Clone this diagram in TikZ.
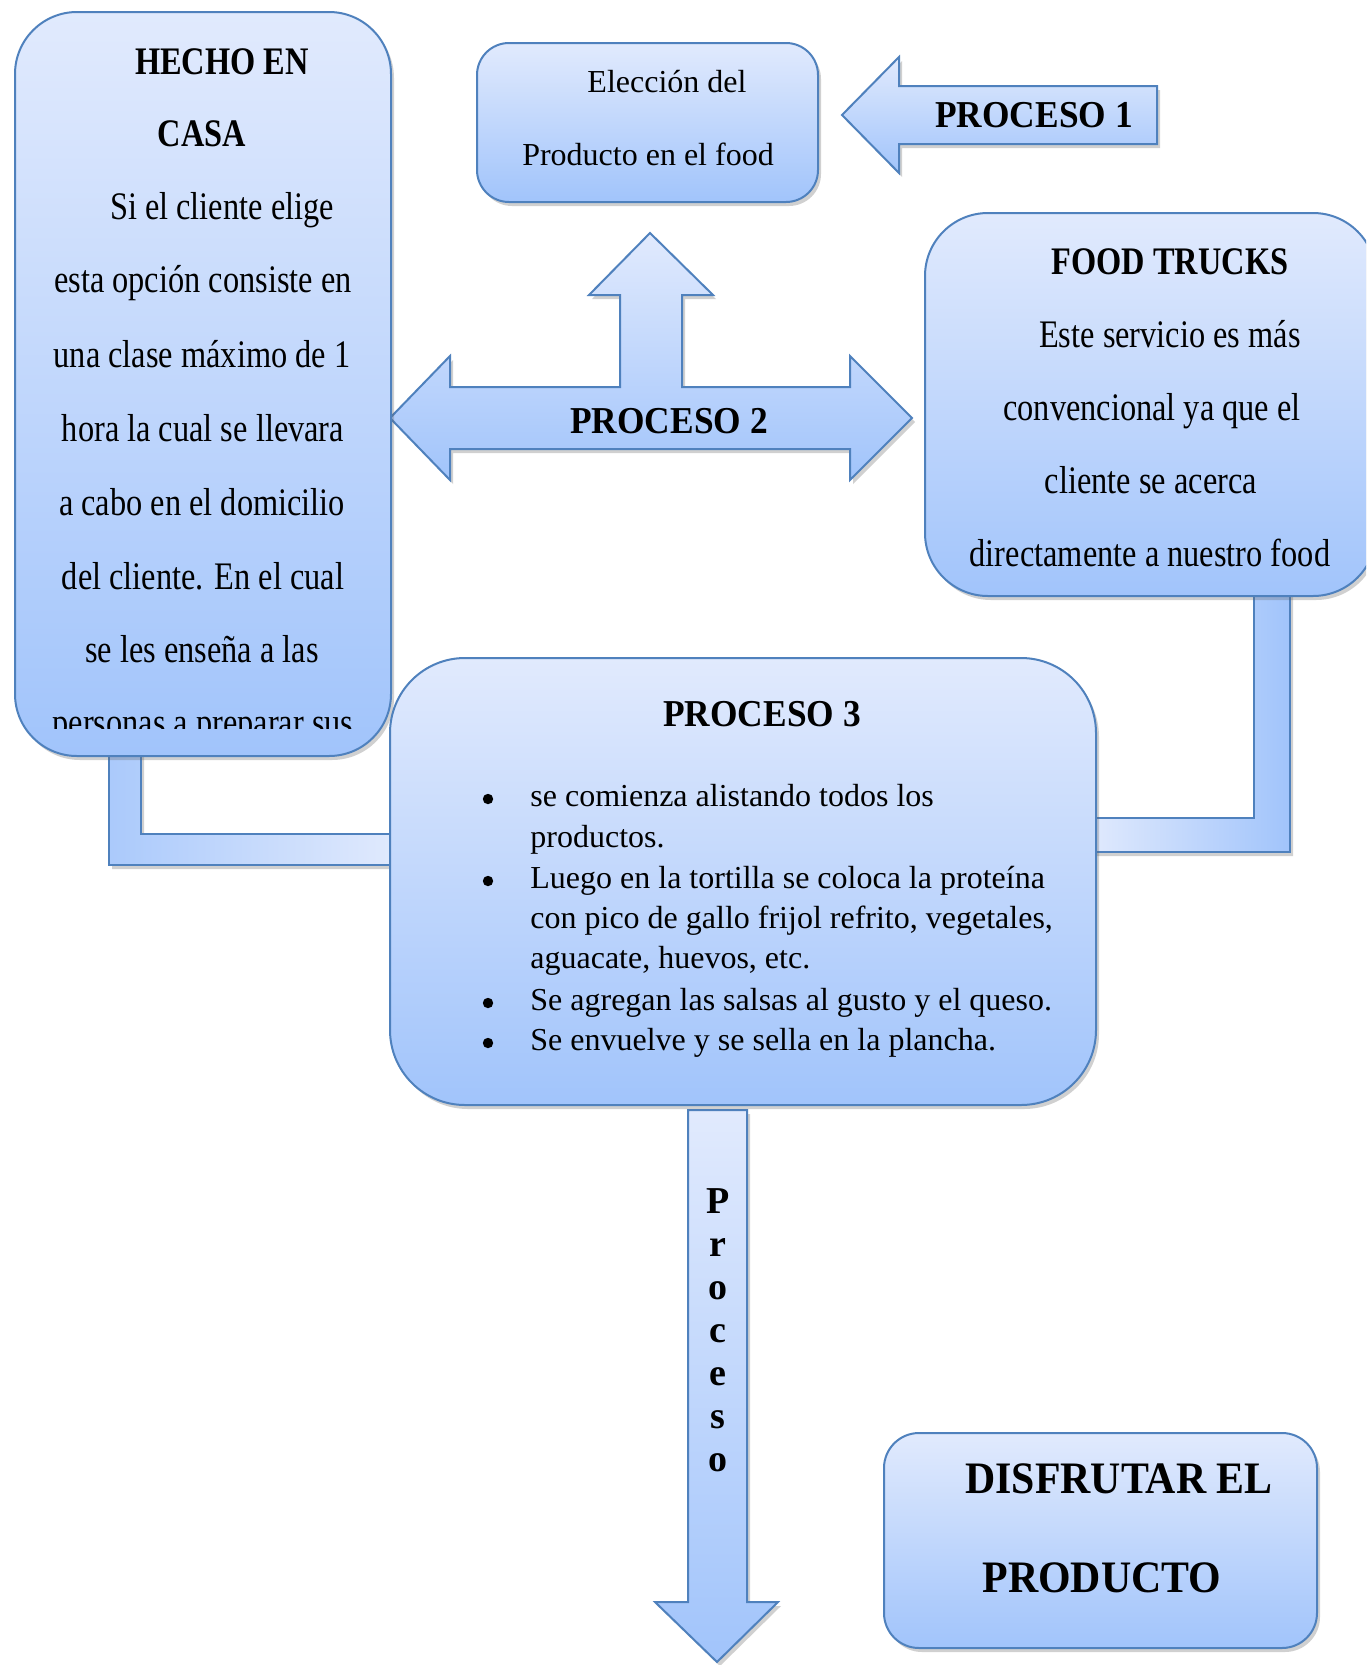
\documentclass[tikz,border=0pt]{standalone}
\usepackage{fontspec}
\setmainfont{Liberation Serif}
\newfontfamily\hfont[FakeStretch=0.83]{Liberation Serif}
\newfontfamily\pfont[FakeStretch=0.93]{Liberation Serif}
\usetikzlibrary{shadows,calc}
\definecolor{gtop}{RGB}{225,234,253}
\definecolor{gbot}{RGB}{161,196,251}
\definecolor{bord}{RGB}{79,129,189}
\tikzset{
  shad/.style={drop shadow={shadow xshift=1.5pt,shadow yshift=-2pt,opacity=0.3,fill=black!60}},
  gbox/.style={rectangle,draw=bord,line width=1pt,top color=gtop,bottom color=gbot,
    inner sep=0pt,outer sep=0pt,shad},
  garrow/.style={draw=bord,line width=1pt,top color=gtop,bottom color=gbot,shad},
  hb/.style={anchor=base,inner sep=0pt,font=\hfont\fontsize{19.5}{23}\selectfont},
  hbb/.style={anchor=base,inner sep=0pt,font=\hfont\fontsize{19.5}{23}\selectfont\bfseries},
  nt/.style={anchor=base,inner sep=0pt,font=\fontsize{16}{19}\selectfont},
  blt/.style={anchor=base west,inner sep=0pt,font=\fontsize{16}{19}\selectfont},
  dot/.style={circle,fill=black,inner sep=0pt,minimum size=5.2pt},
  pl/.style={anchor=base,inner sep=0pt,font=\pfont\fontsize{19}{23}\selectfont\bfseries},
  dl/.style={anchor=base,inner sep=0pt,font=\pfont\fontsize{22.5}{27}\selectfont\bfseries},
  ll/.style={anchor=base,inner sep=0pt,font=\fontsize{19}{23}\selectfont\bfseries},
}
\begin{document}
\begin{tikzpicture}[x=0.5pt,y=-0.5pt]
\useasboundingbox (0,0) rectangle (1366,1665);
\clip (0,0) rectangle (1366,1665);
\fill[white] (0,0) rectangle (1366,1665);

% named anchors for the boxes (drawn later, on top of connectors)
\coordinate (hcS) at (203,756);
\coordinate (ftS) at (1150,596);
\coordinate (p3W) at (390,880);
\coordinate (p3E) at (1096,880);

% connectors (block strips), behind the boxes
\draw[draw=bord,line width=1pt,left color=gbot!85!gtop,right color=gtop,shad]
  ($(109,0 |- hcS)+(0,-8)$) -- ($(141,0 |- hcS)+(0,-8)$) -- (141,834) -- ($(p3W |- 0,834)+(8,0)$)
  -- ($(p3W |- 0,865)+(8,0)$) -- (109,865) -- cycle;
\draw[draw=bord,line width=1pt,left color=gtop,right color=gbot,shad]
  ($(1254,0 |- ftS)+(0,-8)$) -- ($(1290,0 |- ftS)+(0,-8)$) -- (1290,852) -- ($(p3E |- 0,852)+(-8,0)$)
  -- ($(p3E |- 0,818)+(-8,0)$) -- (1254,818) -- cycle;

% block arrows
\draw[garrow] (842,115) -- (899,57) -- (899,86) -- (1157,86) -- (1157,144) -- (899,144) -- (899,173) -- cycle;
\draw[garrow] (390,418) -- (450,356) -- (450,387) -- (620,387) -- (620,295) -- (589,295) -- (650,233)
  -- (713,295) -- (682,295) -- (682,387) -- (850,387) -- (850,356) -- (912,418) -- (850,480)
  -- (850,449) -- (450,449) -- (450,480) -- cycle;
\draw[garrow] (688,1110) -- (747,1110) -- (747,1602) -- (778,1602) -- (717,1662) -- (655,1602) -- (688,1602) -- cycle;

% boxes
\node[gbox,rounded corners=31pt,minimum width=188pt,minimum height=372pt] (hc) at (203,384) {};
\node[gbox,rounded corners=16pt,minimum width=170.5pt,minimum height=79.5pt] (el) at (647.5,122.5) {};
\node[gbox,rounded corners=31.5pt,minimum width=225.5pt,minimum height=191.5pt] (ft) at (1150.5,404.5) {};
\node[gbox,rounded corners=37.5pt,minimum width=353pt,minimum height=223.5pt] (p3) at (743,881.5) {};
\node[gbox,rounded corners=17.5pt,minimum width=216.5pt,minimum height=107.5pt] (df) at (1100.5,1540.5) {};

% HECHO EN CASA text
\node[hbb] (h1) at (222,74) {HECHO EN};
\node[hbb] (h2) at (202,146) {CASA};
\node[hb] (h3) at (222,219) {Si el cliente elige};
\node[hb] (h4) at (203,292) {esta opción consiste en};
\node[hb] (h5) at (202,367) {una clase máximo de 1};
\node[hb] (h6) at (203,441) {hora la cual se llevara};
\node[hb] (h7) at (202,515) {a cabo en el domicilio};
\node[hb] (h8) at (203,589) {del cliente. En el cual};
\node[hb] (h9) at (202,662) {se les enseña a las};
\begin{scope}
\clip (15,600) rectangle (391,728);
\node[hb] (h10) at (203,735) {personas a preparar sus};
\end{scope}

% Eleccion
\node[nt] (e1) at (667,92) {Elección del};
\node[nt] (e2) at (648,165) {Producto en el food};

% process labels
\node[pl] (l1) at (1034,127) {PROCESO 1};
\node[pl] (l2) at (669,433) {PROCESO 2};
\node[pl] (l3) at (762,726) {PROCESO 3};

% FOOD TRUCKS
\node[hbb] (f1) at (1170,274) {FOOD TRUCKS};
\node[hb] (f2) at (1170,347) {Este servicio es más};
\node[hb] (f3) at (1152,420) {convencional ya que el};
\node[hb] (f4) at (1151,493) {cliente se acerca};
\node[hb] (f5) at (1150,566) {directamente a nuestro food};

% bullets
\node[dot] (b1) at (488,799) {};
\node[dot] (b2) at (488,881) {};
\node[dot] (b3) at (488,1003) {};
\node[dot] (b4) at (488,1043) {};
\node[blt] (s1) at (530,806) {se comienza alistando todos los};
\node[blt] (s2) at (530,847) {productos.};
\node[blt] (s3) at (530,888) {Luego en la tortilla se coloca la proteína};
\node[blt] (s4) at (530,928) {con pico de gallo frijol refrito, vegetales,};
\node[blt] (s5) at (530,968) {aguacate, huevos, etc.};
\node[blt] (s6) at (530,1010) {Se agregan las salsas al gusto y el queso.};
\node[blt] (s7) at (530,1050) {Se envuelve y se sella en la plancha.};

% vertical Proceso
\node[ll] (v1) at (718,1213) {P};
\node[ll] (v2) at (718,1256) {r};
\node[ll] (v3) at (718,1299) {o};
\node[ll] (v4) at (718,1342) {c};
\node[ll] (v5) at (718,1385) {e};
\node[ll] (v6) at (718,1428) {s};
\node[ll] (v7) at (718,1471) {o};

% DISFRUTAR
\node[dl] (d1) at (1119,1493) {DISFRUTAR EL};
\node[dl] (d2) at (1102,1592) {PRODUCTO};
\end{tikzpicture}
\end{document}
